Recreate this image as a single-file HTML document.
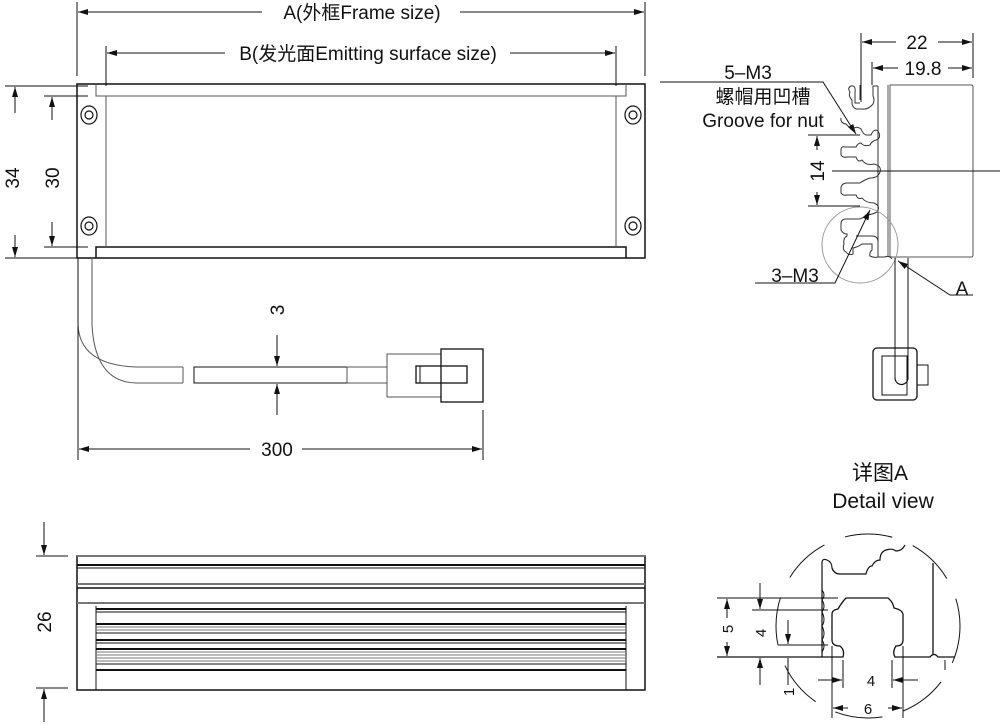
<!DOCTYPE html>
<html><head><meta charset="utf-8"><style>
html,body{margin:0;padding:0;background:#fff}
svg{display:block}
text{font-family:"Liberation Sans","Noto Sans CJK SC",sans-serif;fill:#111}
</style></head><body>
<svg width="1000" height="725" viewBox="0 0 1000 725" xmlns="http://www.w3.org/2000/svg">
<defs>
<marker id="ar" viewBox="0 0 10 6" refX="10" refY="3" markerWidth="10" markerHeight="6" orient="auto-start-reverse" markerUnits="userSpaceOnUse"><path d="M0,0 L10,3 L0,6 z" fill="#111"/></marker>
</defs>
<g stroke="#111" fill="none" stroke-width="1">
<!-- A dim -->
<line x1="77" y1="2" x2="77" y2="76"/><line x1="645" y1="2" x2="645" y2="76"/>
<line x1="78" y1="12" x2="262" y2="12" marker-start="url(#ar)"/>
<line x1="460" y1="12" x2="644" y2="12" marker-end="url(#ar)"/>
<!-- B dim -->
<line x1="106" y1="46" x2="106" y2="86"/><line x1="616" y1="46" x2="616" y2="86"/>
<line x1="107" y1="53" x2="225" y2="53" marker-start="url(#ar)"/>
<line x1="510" y1="53" x2="615" y2="53" marker-end="url(#ar)"/>
<!-- frame -->
<rect x="77" y="84" width="568" height="174" stroke-width="1.5"/>
<path d="M96,84 V96 H626 V84" stroke="#555"/>
<path d="M96,258 V247 H626 V258" stroke-width="1.5"/>
<line x1="106" y1="96" x2="106" y2="247" stroke="#555"/>
<line x1="616" y1="96" x2="616" y2="247" stroke="#555"/>
<g stroke-width="1.2">
<ellipse cx="89" cy="115" rx="8" ry="9"/><circle cx="89" cy="115" r="4"/>
<ellipse cx="633" cy="115" rx="8" ry="9"/><circle cx="633" cy="115" r="4"/>
<ellipse cx="89" cy="226" rx="8" ry="9"/><circle cx="89" cy="226" r="4"/>
<ellipse cx="633" cy="226" rx="8" ry="9"/><circle cx="633" cy="226" r="4"/>
</g>
<!-- 34 / 30 dims -->
<line x1="5" y1="86" x2="88" y2="86"/><line x1="5" y1="258" x2="78" y2="258"/>
<line x1="44" y1="96" x2="88" y2="96"/><line x1="44" y1="247" x2="88" y2="247"/>
<line x1="15" y1="113" x2="15" y2="87" marker-end="url(#ar)"/>
<line x1="15" y1="235" x2="15" y2="257" marker-end="url(#ar)"/>
<line x1="52" y1="120" x2="52" y2="97" marker-end="url(#ar)"/>
<line x1="52" y1="222" x2="52" y2="246" marker-end="url(#ar)"/>
<!-- cable -->
<path d="M78,258 V325 Q80,365 136,367 H183 M92,258 V325 Q95,382 136,383 H183 M183,367 V383" stroke="#555"/>
<rect x="194" y="367" width="153" height="16"/>
<rect x="347" y="367" width="40" height="16" stroke="#555"/>
<rect x="387" y="354" width="54" height="43" stroke="#555"/>
<rect x="441" y="349" width="42" height="53" stroke-width="1.3"/>
<rect x="416" y="366" width="51" height="17" stroke-width="1.3"/>
<line x1="420" y1="366" x2="420" y2="383"/>
<!-- 3 dim -->
<line x1="277" y1="335" x2="277" y2="366" marker-end="url(#ar)"/>
<line x1="277" y1="415" x2="277" y2="384" marker-end="url(#ar)"/>
<!-- 300 -->
<line x1="78" y1="258" x2="78" y2="460"/><line x1="483" y1="410" x2="483" y2="460"/>
<line x1="79" y1="449" x2="250" y2="449" marker-start="url(#ar)"/>
<line x1="302" y1="449" x2="482" y2="449" marker-end="url(#ar)"/>

<!-- side view -->
<rect x="77" y="556" width="568" height="134" stroke-width="1.5"/>
<line x1="77" y1="556" x2="645" y2="556" stroke="#777" stroke-width="2"/>
<line x1="77" y1="565" x2="645" y2="565" stroke-width="2"/>
<line x1="77" y1="568" x2="645" y2="568"/>
<line x1="77" y1="584" x2="645" y2="584" stroke="#777" stroke-width="2"/>
<line x1="77" y1="588" x2="645" y2="588" stroke-width="1.5"/>
<line x1="77" y1="603" x2="645" y2="603" stroke="#777" stroke-width="2"/>
<line x1="96" y1="606" x2="96" y2="690"/><line x1="626" y1="606" x2="626" y2="690"/>
<g stroke-width="1">
<line x1="96" y1="609" x2="626" y2="609" stroke-width="2"/>
<line x1="96" y1="612" x2="626" y2="612"/>
<line x1="96" y1="624" x2="626" y2="624" stroke-width="2"/>
<line x1="96" y1="627" x2="626" y2="627" stroke="#777"/>
<line x1="96" y1="630" x2="626" y2="630" stroke="#777"/>
<line x1="96" y1="633" x2="626" y2="633"/>
<line x1="96" y1="640" x2="626" y2="640" stroke-width="2"/>
<line x1="96" y1="643" x2="626" y2="643"/>
<line x1="96" y1="649" x2="626" y2="649" stroke-width="2"/>
<line x1="96" y1="652" x2="626" y2="652" stroke="#777"/>
<line x1="96" y1="655" x2="626" y2="655" stroke="#777"/>
<line x1="96" y1="658" x2="626" y2="658" stroke="#777"/>
<line x1="96" y1="661" x2="626" y2="661" stroke="#777"/>
<line x1="96" y1="664" x2="626" y2="664"/>
<line x1="96" y1="670" x2="626" y2="670" stroke-width="2"/>
</g>
<line x1="36" y1="556" x2="68" y2="556"/><line x1="36" y1="688" x2="68" y2="688"/>
<line x1="44" y1="522" x2="44" y2="555" marker-end="url(#ar)"/>
<line x1="44" y1="722" x2="44" y2="689" marker-end="url(#ar)"/>

<!-- right view -->
<line x1="861" y1="33" x2="861" y2="102"/><line x1="973" y1="33" x2="973" y2="78"/>
<line x1="872" y1="62" x2="872" y2="85"/>
<line x1="862" y1="42" x2="896" y2="42" marker-start="url(#ar)"/>
<line x1="938" y1="42" x2="972" y2="42" marker-end="url(#ar)"/>
<line x1="873" y1="68" x2="898" y2="68" marker-start="url(#ar)"/>
<line x1="948" y1="68" x2="972" y2="68" marker-end="url(#ar)"/>
<path d="M890,85 H971 Q973,85 973,87 V255 Q973,257 971,257 H890 Z" stroke="#555"/>
<line x1="888" y1="85" x2="888" y2="257" stroke="#555"/>
<line x1="878" y1="86" x2="878" y2="257" stroke="#333"/>
<path stroke="#333" stroke-width="1" d="M860,100 V85 M878,86 H873 V96 Q875,100 873,104 Q868,110 862,109 H856 Q852,107 852,103 V100 Q848,96 850,92 Q847,88 851,86 Q856,85 855,92 V103 H860
M841,118 Q840,123 846,124 L852,130 Q856,125 861,129 Q863,134 866,135 H871 Q874,128 878,131 Q882,138 876,140 Q872,141 870,145 Q864,147 861,143 Q858,143 856,147 H845 Q841,146 841,150 V155 Q843,158 847,157 H856 Q858,163 862,160 Q866,166 874,164 Q882,166 880,172 Q878,178 870,178 Q864,180 860,183 H846 Q841,184 841,188 V193 Q843,196 847,195 H856 Q858,200 862,198 Q866,203 874,203 Q881,206 877,212 Q871,215 866,215 Q862,219 859,219 H846 Q841,219 841,224 V230 Q843,234 847,234 V236 Q843,238 844,244 Q842,250 846,252 Q849,256 853,254 V248 Q858,247 862,244 H872 V250 Q869,253 870,256 Q874,258 878,257 H885 Q889,255 892,259"/>
<path d="M856,236 H872 Q878,236 878,242" stroke="#333"/>
<line x1="832" y1="171" x2="1000" y2="171"/>
<line x1="808" y1="135" x2="860" y2="135"/><line x1="808" y1="206" x2="860" y2="206"/>
<line x1="817" y1="150" x2="817" y2="136" marker-end="url(#ar)"/>
<line x1="817" y1="192" x2="817" y2="205" marker-end="url(#ar)"/>
<path d="M660,82 H823 L856,134" marker-end="url(#ar)"/>
<circle cx="860" cy="245" r="38" stroke="#999"/>
<path d="M755,283 H835 L870,210" marker-end="url(#ar)"/>
<path d="M973,295 H950 L898,261" marker-end="url(#ar)"/>
<line x1="895" y1="258" x2="895" y2="378"/><line x1="908" y1="258" x2="908" y2="378"/>
<rect x="873" y="348" width="44" height="52" rx="4" stroke-width="1.3"/>
<rect x="882" y="356" width="25" height="39"/>
<rect x="917" y="365" width="11" height="20"/>
<path d="M895,378 A6.5,6.5 0 0 0 908,378" stroke-width="1.2"/>

<!-- detail view -->
<circle cx="868" cy="626" r="92" stroke-dasharray="48,22" stroke-dashoffset="10"/>
<path d="M822,563 V657 M822,563 Q822,558 827,560 Q832,562 832,568 Q834,574 840,574 H866 Q868,566 872,566 Q875,560 880,560 Q880,552 886,550 Q892,548 896,551 Q902,551 905,545" stroke-width="1.2"/>
<path d="M822,590 Q826,595 822,600 Q826,606 822,612 Q826,620 822,626 Q826,634 822,640 Q826,646 822,652" stroke-width="1"/>
<path d="M717,657 H843 Q845,650 840,646 Q832,646 832,640 V614 Q832,610 838,609 Q842,602 846,598 H888 Q893,602 894,608 Q903,610 903,615 V640 Q903,646 896,646 Q892,652 895,657 H930 Q934,652 938,657 H955" stroke-width="1.3"/>
<line x1="933" y1="563" x2="933" y2="655" stroke-width="1.3"/>
<line x1="945" y1="660" x2="945" y2="670"/>
<line x1="717" y1="598" x2="838" y2="598"/>
<line x1="752" y1="610" x2="828" y2="610"/>
<line x1="778" y1="645" x2="828" y2="645"/>
<line x1="727" y1="618" x2="727" y2="599" marker-end="url(#ar)"/>
<line x1="727" y1="642" x2="727" y2="656" marker-end="url(#ar)"/>
<line x1="760" y1="583" x2="760" y2="609" marker-end="url(#ar)"/>
<line x1="760" y1="685" x2="760" y2="658" marker-end="url(#ar)"/>
<line x1="788" y1="620" x2="788" y2="644" marker-end="url(#ar)"/>
<line x1="788" y1="685" x2="788" y2="658"/>
<line x1="843" y1="660" x2="843" y2="688"/><line x1="892" y1="660" x2="892" y2="688"/>
<line x1="818" y1="680" x2="842" y2="680" marker-end="url(#ar)"/>
<line x1="918" y1="680" x2="893" y2="680" marker-end="url(#ar)"/>
<line x1="832" y1="646" x2="832" y2="718"/><line x1="903" y1="646" x2="903" y2="718"/>
<line x1="848" y1="708" x2="833" y2="708" marker-end="url(#ar)"/>
<line x1="888" y1="708" x2="902" y2="708" marker-end="url(#ar)"/>
</g>

<g font-size="19" text-anchor="middle">
<text x="362" y="19">A(外框Frame size)</text>
<text x="368" y="60">B(发光面Emitting surface size)</text>
<text x="277" y="456">300</text>
<text transform="translate(19,178) rotate(-90)">34</text>
<text transform="translate(59,178) rotate(-90)">30</text>
<text transform="translate(284,310) rotate(-90)">3</text>
<text transform="translate(51,622) rotate(-90)">26</text>
<text x="917" y="49">22</text>
<text x="923" y="75">19.8</text>
<text x="748" y="79">5–M3</text>
<text x="763" y="103">螺帽用凹槽</text>
<text x="763" y="127">Groove for nut</text>
<text x="795" y="282">3–M3</text>
<text x="962" y="295">A</text>
<text transform="translate(824,171) rotate(-90)">14</text>
<text x="880" y="480" font-size="21">详图A</text>
<text x="883" y="508" font-size="21">Detail view</text>
<text transform="translate(733,629) rotate(-90)" font-size="15">5</text>
<text transform="translate(766,633) rotate(-90)" font-size="15">4</text>
<text transform="translate(794,692) rotate(-90)" font-size="15">1</text>
<text x="871" y="686" font-size="15">4</text>
<text x="868" y="714" font-size="15">6</text>
</g>
</svg>
</body></html>
